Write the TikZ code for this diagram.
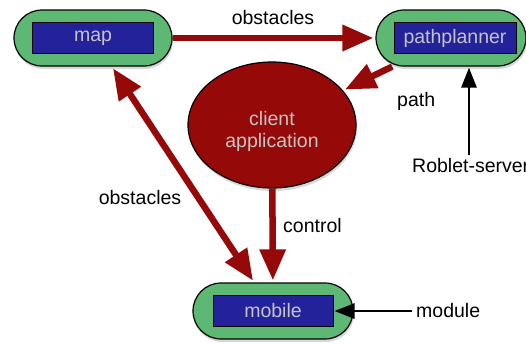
\documentclass[tikz,border=0pt]{standalone}
\usepackage{fontspec}
\setmainfont{Liberation Sans}
\usetikzlibrary{arrows.meta,shapes.geometric,shadows}

\definecolor{modgreen}{HTML}{5DB874}
\definecolor{modblue}{HTML}{23229B}
\definecolor{appred}{HTML}{960909}
\definecolor{namegray}{HTML}{C4C4C4}

\tikzset{
  modbox/.style={draw=black, line width=1.2pt, fill=modgreen, rounded corners=28pt,
    minimum height=56pt, inner sep=0pt,
    drop shadow={opacity=0.3, shadow xshift=1pt, shadow yshift=-3pt}},
  modname/.style={draw=black, line width=1pt, fill=modblue, text=namegray,
    minimum height=31pt, inner sep=0pt, font=\fontsize{19.5}{22}\selectfont},
  flow/.style={-{Triangle[length=31pt,width=25pt]}, line width=6.5pt, appred, shorten >=2pt},
  feed/.style={-{Triangle[length=20pt,width=15pt]}, line width=2.8pt, black, shorten >=1pt},
  tag/.style={font=\fontsize{19.5}{22}\selectfont, inner sep=4pt}
}

\begin{document}
\begin{tikzpicture}[x=1pt,y=-1pt]

\fill[white] (0,0) rectangle (526,343);
\useasboundingbox (0,0) rectangle (526,343);

% Draw the map module
\node[modbox, minimum width=158pt] (map) at (93,38) {};
\node[modname, minimum width=121pt] (mapname) at (93,38) {map};

% Draw the pathplanner module
\node[modbox, minimum width=150pt] (pathplanner) at (451,38) {};
\node[modname, minimum width=122pt] (plannername) at (455,38) {pathplanner};

% Draw the mobile module
\node[modbox, minimum width=160pt] (mobile) at (273,311) {};
\node[modname, minimum width=120pt] (mobilename) at (273,311) {mobile};

% Draw the client application
\node[ellipse, draw=black, line width=1.2pt, fill=appred,
  minimum width=168pt, minimum height=126pt,
  drop shadow={opacity=0.3, shadow xshift=1pt, shadow yshift=-3pt}]
  (client) at (272,125) {};
\node[text=namegray, align=center, font=\fontsize{19.5}{22}\selectfont]
  (clientname) at (272,131) {client\\application};

% Draw and label the obstacles from map to pathplanner
\draw[flow] (map) -- (pathplanner);
\node[tag] (obstop) at (273,18) {obstacles};

% Draw and label the path
\draw[flow] (pathplanner) -- (client);
\node[tag, anchor=west] (path) at (393,101) {path};

% Draw and label the control
\draw[flow] (client) -- (mobile);
\node[tag, anchor=west] (control) at (279,226) {control};

% Draw and label the obstacles between map and mobile
\draw[flow, shorten <=2pt, {Triangle[length=31pt,width=25pt]}-{Triangle[length=31pt,width=25pt]}] (map) -- (mobile);
\node[tag] (obsside) at (140,198) {obstacles};

% Draw and label the Roblet-server input
\node[tag, anchor=west] (roblet) at (408,166) {Roblet-server};
\coordinate (robletfoot) at (469,155);
\draw[feed] (robletfoot) -- (robletfoot |- pathplanner.south);

% Draw and label the module input
\node[tag, anchor=west] (module) at (412,311) {module};
\draw[feed] (module) -- (mobilename.east);

\end{tikzpicture}
\end{document}
